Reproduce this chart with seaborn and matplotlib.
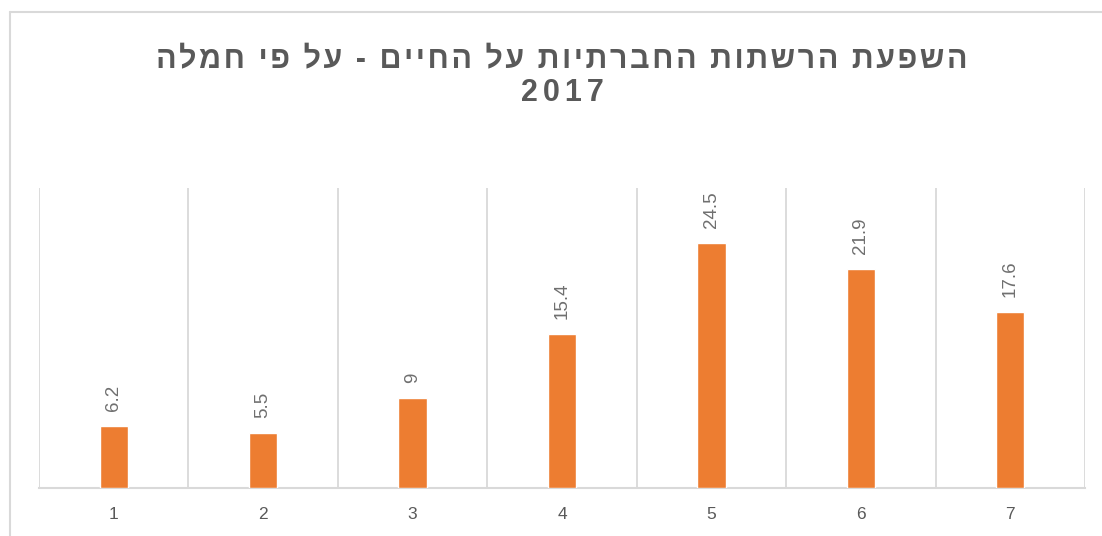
import matplotlib
matplotlib.use("Agg")
import matplotlib.pyplot as plt
from matplotlib.lines import Line2D
import seaborn as sns
import pandas as pd

categories = ["1", "2", "3", "4", "5", "6", "7"]
values = [6.2, 5.5, 9, 15.4, 24.5, 21.9, 17.6]
value_labels = ["6.2", "5.5", "9", "15.4", "24.5", "21.9", "17.6"]
title_line1 = "השפעת הרשתות החברתיות על החיים - על פי חמלה"
title_line2 = "2017"

sns.set_theme(style="white")
plt.rcParams["font.family"] = ["Liberation Sans", "DejaVu Sans"]

df = pd.DataFrame({"category": categories, "value": values})

fig = plt.figure(figsize=(11.02, 5.36), dpi=100)
ax = fig.add_axes([39 / 1102, 1 - 488 / 536, (1085 - 39) / 1102, 300 / 536])

sns.barplot(data=df, x="category", y="value", color="#ED7D31", width=0.19,
            saturation=1, ax=ax, zorder=3)

ax.set_xlim(-0.5, len(categories) - 0.5)
ax.set_ylim(0, 30)
ax.set_yticks([])
ax.set_xlabel("")
ax.set_ylabel("")

# vertical separators between categories
for b in [i - 0.5 for i in range(len(categories) + 1)]:
    ax.axvline(b, color="#D9D9D9", lw=1.3, zorder=1)

for side in ["top", "right", "left"]:
    ax.spines[side].set_visible(False)
ax.spines["bottom"].set_color("#D9D9D9")
ax.spines["bottom"].set_linewidth(1.5)
ax.tick_params(axis="x", length=0, pad=14, labelsize=12.5, labelcolor="#595959")

for i, (v, lab) in enumerate(zip(values, value_labels)):
    ax.annotate(lab, xy=(i, v), xytext=(0, 11), textcoords="offset points",
                rotation=90, ha="center", va="bottom", fontsize=13.5,
                color="#6f6f6f")


def spaced(s, sep="\u200a"):
    return sep.join(s)


# title (Hebrew is right-to-left, so the glyph order is reversed for LTR layout)
fig.text(562 / 1102, 1 - 77 / 536,
         spaced(title_line1[::-1]) + "\n" + spaced(title_line2, "\u200a\u200a"),
         ha="center", va="center", fontsize=22, fontweight="bold",
         color="#595959", linespacing=1.12)

# chart-area border
fig.add_artist(Line2D([10 / 1102, 10 / 1102], [0, 1 - 12 / 536],
                      transform=fig.transFigure, color="#D9D9D9", lw=1.5))
fig.add_artist(Line2D([10 / 1102, 1], [1 - 12 / 536, 1 - 12 / 536],
                      transform=fig.transFigure, color="#D9D9D9", lw=1.5))

fig.savefig("out.png", dpi=100)
